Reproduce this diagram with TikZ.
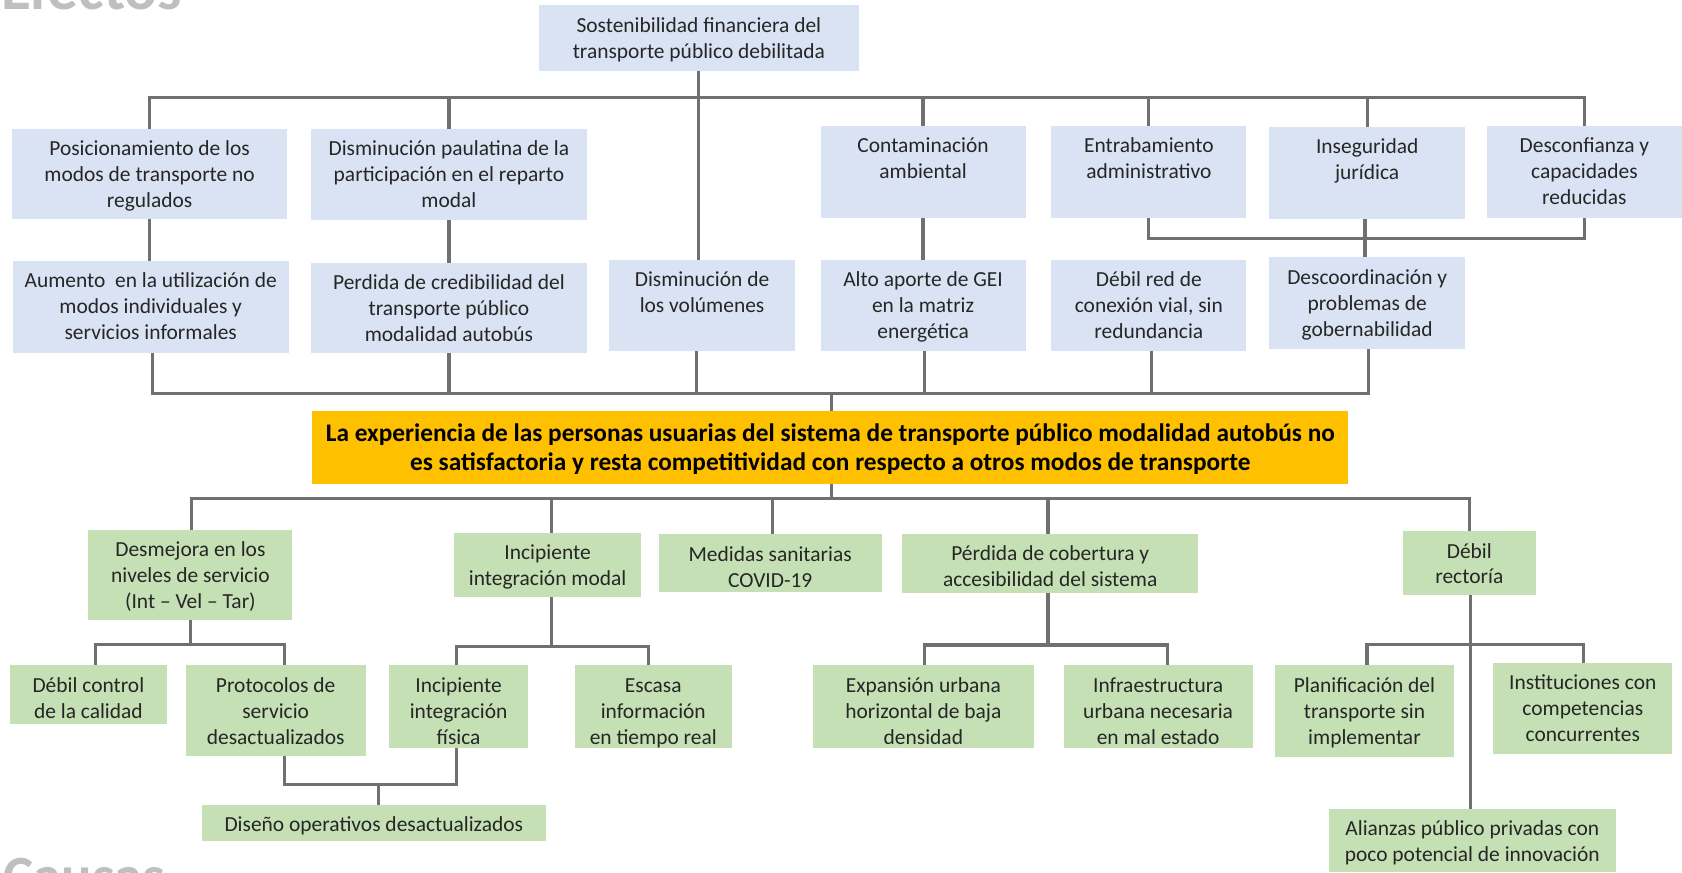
\documentclass[tikz,border=0pt]{standalone}
\usepackage{fontspec}
\setmainfont{Carlito}
\definecolor{effblue}{HTML}{DAE3F3}
\definecolor{causegreen}{HTML}{C5E0B4}
\definecolor{coreorange}{HTML}{FFC000}
\definecolor{linegray}{HTML}{707070}
\definecolor{txtc}{HTML}{262626}
\definecolor{titlegray}{HTML}{BFBFBF}
\newcommand\fl{\rule{0pt}{17pt}}
\newcommand\flm{\rule{0pt}{19pt}}
\begin{document}
\begin{tikzpicture}[x=1pt,y=-1pt,
  eb/.style={rectangle, fill=effblue, inner sep=0pt, outer sep=0pt},
  cb/.style={rectangle, fill=causegreen, inner sep=0pt, outer sep=0pt},
  mainbox/.style={rectangle, fill=coreorange, inner sep=0pt, outer sep=0pt},
  lb/.style={anchor=north, inner sep=0pt, align=center, font=\fontsize{20}{24.2}\selectfont, text=txtc, yshift=-8pt},
  lbm/.style={anchor=north, inner sep=0pt, align=center, font=\fontsize{23.6}{27.5}\selectfont\bfseries, text=black, yshift=-9pt},
  conn/.style={draw=linegray, line width=3pt},
  titletext/.style={anchor=base west, inner sep=0pt, text=titlegray}
]
\useasboundingbox (0,0) rectangle (1568,813);
\fill[white] (0,0) rectangle (1568,813);

% titles (partly outside the page, as in the reference)
\node[titletext, font=\fontsize{57}{60}\selectfont\bfseries] (efectos) at (1,9) {Efectos};
\node[titletext, font=\fontsize{53}{56}\selectfont\bfseries] (causas) at (3,835) {Causas};

% ---------- effects ----------
\node[eb, minimum width=299pt, minimum height=61pt, label={[lb]north:{\fl Sostenibilidad financiera del\\transporte público debilitada}}] (s) at (651.5,35.5) {};

\node[eb, minimum width=257pt, minimum height=84pt, label={[lb]north:{\fl Posicionamiento de los\\modos de transporte no\\regulados}}] (e1) at (139.5,162) {};
\node[eb, minimum width=257pt, minimum height=85pt, label={[lb]north:{\fl Disminución paulatina de la\\participación en el reparto\\modal}}] (e2) at (418.5,162.5) {};
\node[eb, minimum width=191pt, minimum height=86pt, label={[lb]north:{\fl Contaminación\\ambiental}}] (e3) at (860.5,160) {};
\node[eb, minimum width=182pt, minimum height=86pt, label={[lb]north:{\fl Entrabamiento\\administrativo}}] (e4) at (1071,160) {};
\node[eb, minimum width=183pt, minimum height=86pt, label={[lb]north:{\fl Inseguridad\\jurídica}}] (e5) at (1274.5,161) {};
\node[eb, minimum width=182pt, minimum height=86pt, label={[lb]north:{\fl Desconfianza y\\capacidades\\reducidas}}] (e6) at (1477,160) {};

\node[eb, minimum width=257pt, minimum height=86pt, label={[lb]north:{\fl Aumento\ \ en la utilización de\\modos individuales y\\servicios informales}}] (r1) at (140.5,286) {};
\node[eb, minimum width=257pt, minimum height=84pt, label={[lb]north:{\fl Perdida de credibilidad del\\transporte público\\modalidad autobús}}] (r2) at (418.5,287) {};
\node[eb, minimum width=173pt, minimum height=85pt, label={[lb]north:{\fl Disminución de\\los volúmenes}}] (r3) at (654.5,284.5) {};
\node[eb, minimum width=191pt, minimum height=85pt, label={[lb]north:{\fl Alto aporte de GEI\\en la matriz\\energética}}] (r4) at (860.5,284.5) {};
\node[eb, minimum width=182pt, minimum height=85pt, label={[lb]north:{\fl Débil red de\\conexión vial, sin\\redundancia}}] (r5) at (1071,284.5) {};
\node[eb, minimum width=183pt, minimum height=85pt, label={[lb]north:{\fl Descoordinación y\\problemas de\\gobernabilidad}}] (r6) at (1274.5,282.5) {};

% ---------- core problem ----------
\node[mainbox, minimum width=966pt, minimum height=68pt, label={[lbm]north:{\flm La experiencia de las personas usuarias del sistema de transporte público modalidad autobús no\\es satisfactoria y resta competitividad con respecto a otros modos de transporte}}] (main) at (774,417) {};

% ---------- causes ----------
\node[cb, minimum width=190pt, minimum height=84pt, label={[lb]north:{\fl Desmejora en los\\niveles de servicio\\(Int – Vel – Tar)}}] (k1) at (177.5,536) {};
\node[cb, minimum width=175pt, minimum height=60pt, label={[lb]north:{\fl Incipiente\\integración modal}}] (k2) at (510.5,526.5) {};
\node[cb, minimum width=208pt, minimum height=54pt, label={[lb]north:{\fl Medidas sanitarias\\COVID-19}}] (k3) at (718,525) {};
\node[cb, minimum width=275.5pt, minimum height=55pt, label={[lb]north:{\fl Pérdida de cobertura y\\accesibilidad del sistema}}] (k4) at (979,525) {};
\node[cb, minimum width=124pt, minimum height=60pt, label={[lb]north:{\fl Débil\\rectoría}}] (k5) at (1369.7,525) {};

\node[cb, minimum width=147pt, minimum height=55pt, label={[lb]north:{\fl Débil control\\de la calidad}}] (l1) at (82.4,647.5) {};
\node[cb, minimum width=168pt, minimum height=85pt, label={[lb]north:{\fl Protocolos de\\servicio\\desactualizados}}] (l2) at (257,662.7) {};
\node[cb, minimum width=129pt, minimum height=77.6pt, label={[lb]north:{\fl Incipiente\\integración\\física}}] (l3) at (427.5,658.8) {};
\node[cb, minimum width=146pt, minimum height=77.6pt, label={[lb]north:{\fl Escasa\\información\\en tiempo real}}] (l4) at (609,658.8) {};
\node[cb, minimum width=321pt, minimum height=33.2pt, label={[lb]north:{\fl Diseño operativos desactualizados}}] (l5) at (348.5,767) {};
\node[cb, minimum width=206pt, minimum height=77.6pt, label={[lb]north:{\fl Expansión urbana\\horizontal de baja\\densidad}}] (l6) at (860.8,658.8) {};
\node[cb, minimum width=176pt, minimum height=77.6pt, label={[lb]north:{\fl Infraestructura\\urbana necesaria\\en mal estado}}] (l7) at (1079.6,658.8) {};
\node[cb, minimum width=166pt, minimum height=85.4pt, label={[lb]north:{\fl Planificación del\\transporte sin\\implementar}}] (l8) at (1272,662.7) {};
\node[cb, minimum width=167pt, minimum height=85pt, label={[lb]north:{\fl Instituciones con\\competencias\\concurrentes}}] (l9) at (1475.5,660.4) {};
\node[cb, minimum width=268pt, minimum height=59.5pt, label={[lb]north:{\fl Alianzas público privadas con\\poco potencial de innovación}}] (l10) at (1372.5,783.5) {};

% ---------- connectors: effects ----------
\coordinate (tb) at (651.5,91);
\draw[conn] (e1.north) |- (tb) -| (e6.north);
\foreach \n in {e2,e3,e4,e5} \draw[conn] (\n.north) -- (\n.north |- tb);
\draw[conn] (s.south) -- (s.south |- r3.north);
\draw[conn] (e1.south) -- (e1.south |- r1.north);
\draw[conn] (e2.south) -- (e2.south |- r2.north);
\draw[conn] (e3.south) -- (e3.south |- r4.north);
\coordinate (gb) at (1272,222);
\draw[conn] (e4.south) |- (gb) -| (e6.south);
\draw[conn] ([xshift=-2pt]e5.south) -- ([xshift=-2pt]e5.south |- r6.north);

\coordinate (mb) at (775,367);
\draw[conn] ([xshift=1.8pt]r1.south) |- (mb) -| ([xshift=1.3pt]r6.south);
\draw[conn] (r2.south) -- (r2.south |- mb);
\draw[conn] ([xshift=-5.3pt]r3.south) -- ([xshift=-5.3pt]r3.south |- mb);
\draw[conn] ([xshift=1.2pt]r4.south) -- ([xshift=1.2pt]r4.south |- mb);
\draw[conn] ([xshift=2.5pt]r5.south) -- ([xshift=2.5pt]r5.south |- mb);
\draw[conn] (mb) -- (mb |- main.north);

% ---------- connectors: causes ----------
\coordinate (cbar) at (775,464.5);
\draw[conn] (cbar |- main.south) -- (cbar);
\draw[conn] ([xshift=1.3pt]k1.north) |- (cbar) -| (k5.north);
\draw[conn] ([xshift=3.9pt]k2.north) -- ([xshift=3.9pt]k2.north |- cbar);
\draw[conn] ([xshift=2pt]k3.north) -- ([xshift=2pt]k3.north |- cbar);
\draw[conn] ([xshift=-2pt]k4.north) -- ([xshift=-2pt]k4.north |- cbar);

\coordinate (b1) at (177.3,601);
\draw[conn] (k1.south) -- (k1.south |- b1);
\draw[conn] ([xshift=6.8pt]l1.north) |- (b1) -| ([xshift=8.5pt]l2.north);

\coordinate (b2) at (514.4,603);
\draw[conn] ([xshift=3.9pt]k2.south) -- ([xshift=3.9pt]k2.south |- b2);
\draw[conn] ([xshift=-2pt]l3.north) |- (b2) -| ([xshift=-4.4pt]l4.north);

\coordinate (b3) at (352.6,731);
\draw[conn] ([xshift=8.5pt]l2.south) |- (b3) -| ([xshift=-2pt]l3.south);
\draw[conn] (b3) -- (b3 |- l5.north);

\coordinate (b4) at (977,601.3);
\draw[conn] ([xshift=-2pt]k4.south) -- ([xshift=-2pt]k4.south |- b4);
\draw[conn] ([xshift=1.2pt]l6.north) |- (b4) -| ([xshift=8.4pt]l7.north);

\coordinate (b5) at (1371,601);
\draw[conn] ([xshift=1.3pt]k5.south) -- ([xshift=1.3pt]k5.south |- l10.north);
\draw[conn] ([xshift=2.4pt]l8.north) |- (b5) -| ([xshift=0.3pt]l9.north);
\end{tikzpicture}
\end{document}
